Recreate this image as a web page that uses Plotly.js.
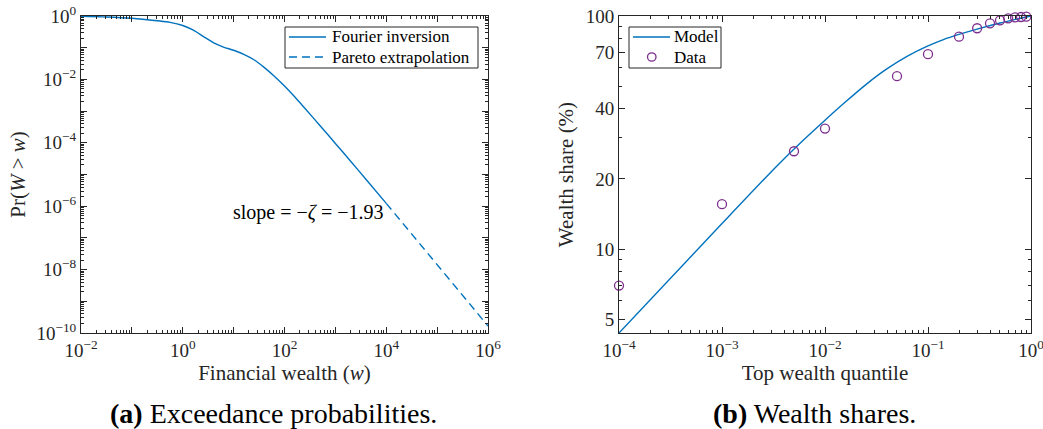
<!DOCTYPE html>
<html>
<head>
<meta charset="utf-8">
<script src="https://cdn.plot.ly/plotly-3.0.1.min.js"></script>
<style>
  html, body { margin: 0; padding: 0; background: #ffffff; }
  #chart { width: 1043px; height: 429px; }
</style>
</head>
<body>
<div id="chart"></div>
<script>
// ---------- Panel (a): exceedance probabilities ----------
const fourierW = [0.01, 0.0316, 0.1, 0.316, 0.562, 1, 1.585, 2.512, 3.98, 6.31, 10, 15.85, 25.1, 39.8, 63.1, 100, 158.5, 251, 501, 1000, 1995, 3981, 10000];
const fourierP = [0.977, 0.933, 0.851, 0.708, 0.631, 0.501, 0.363, 0.229, 0.1445, 0.1047, 0.0832, 0.0617, 0.0417, 0.024, 0.0126, 0.00617, 0.00282, 0.00123, 3.47e-4, 9.55e-5, 2.63e-5, 7.08e-6, 1.23e-6];
const paretoW = [1e4, 1e5, 1e6];
const paretoP = [1.23e-6, 1.445e-8, 1.66e-10];

// ---------- Panel (b): wealth shares ----------
const modelQ = [1e-4, 1e-3, 0.003162, 0.005012, 0.01, 0.01585, 0.02512, 0.03981, 0.0631, 0.1, 0.1413, 0.1995, 0.3, 0.5012, 1];
const modelS = [4.37, 12.88, 21.98, 26.92, 35.73, 42.85, 50.93, 59.29, 67.3, 74.47, 79.25, 83.37, 87.9, 93.33, 100];
const dataQ = [1e-4, 1e-3, 0.005, 0.01, 0.05, 0.1, 0.2, 0.3, 0.4, 0.5, 0.6, 0.7, 0.8, 0.9];
const dataS = [6.98, 15.6, 26.3, 32.9, 55.2, 68.6, 81.5, 88.6, 93.0, 95.8, 97.7, 98.7, 99.0, 99.3];

// tick labels
const xTickLabelsA = ["10<sup>−2</sup>", "", "10<sup>0</sup>", "", "10<sup>2</sup>", "", "10<sup>4</sup>", "", "10<sup>6</sup>"];
const yTickLabelsA = ["10<sup>−10</sup>", "", "10<sup>−8</sup>", "", "10<sup>−6</sup>", "", "10<sup>−4</sup>", "", "10<sup>−2</sup>", "", "10<sup>0</sup>"];
const xTickLabelsB = ["10<sup>−4</sup>", "10<sup>−3</sup>", "10<sup>−2</sup>", "10<sup>−1</sup>", "10<sup>0</sup>"];
const yTickValsB = [5, 10, 20, 40, 70, 100];
const yTickLabelsB = ["5", "10", "20", "40", "70", "100"];

// legend labels
const legendA = ["Fourier inversion", "Pareto extrapolation"];
const legendB = ["Model", "Data"];

function decades(lo, hi) { const v = []; for (let e = lo; e <= hi; e++) v.push(Math.pow(10, e)); return v; }
function minors(lo, hi) { const v = []; for (let e = lo; e < hi; e++) for (let k = 2; k <= 9; k++) v.push(k * Math.pow(10, e)); return v; }

const W = 1043, H = 429;
const px = v => v / W;
const py = v => 1 - v / H;

const blue = '#0072BD';
const purple = '#7E2F8E';
const axCol = '#262626';
const FONT = 'Liberation Serif';

const traces = [
  { x: fourierW, y: fourierP, type: 'scatter', mode: 'lines', name: legendA[0],
    line: { color: blue, width: 1.4, shape: 'spline', smoothing: 0.8 }, xaxis: 'x', yaxis: 'y' },
  { x: paretoW, y: paretoP, type: 'scatter', mode: 'lines', name: legendA[1],
    line: { color: blue, width: 1.4, dash: '8px,5px' }, xaxis: 'x', yaxis: 'y' },
  { x: modelQ, y: modelS, type: 'scatter', mode: 'lines', name: legendB[0],
    line: { color: blue, width: 1.4, shape: 'spline', smoothing: 0.8 }, xaxis: 'x2', yaxis: 'y2' },
  { x: dataQ, y: dataS, type: 'scatter', mode: 'markers', name: legendB[1],
    marker: { symbol: 'circle-open', size: 9, color: purple, line: { width: 1.3, color: purple } },
    xaxis: 'x2', yaxis: 'y2', cliponaxis: false }
];

function axisBase() {
  return {
    type: 'log', showgrid: false, zeroline: false,
    showline: true, linecolor: axCol, linewidth: 1, mirror: 'allticks',
    ticks: 'inside', ticklen: 6, tickwidth: 1, tickcolor: axCol,
    tickfont: { family: FONT, size: 19, color: axCol },
    ticklabeloverflow: 'allow',
    tickmode: 'array', fixedrange: true
  };
}
function minorAx(vals) { return { tickvals: vals, ticks: 'inside', ticklen: 3, tickcolor: axCol, tickwidth: 1 }; }
const titleFont = { family: FONT, size: 21, color: axCol };

const yDomain = [1 - 333 / H, 1 - 16 / H];

// custom legend boxes (MATLAB-style compact legends)
const legFont = { family: FONT, size: 17, color: '#000000' };
const shapes = [
  { type: 'rect', xref: 'paper', yref: 'paper', x0: px(285), x1: px(478), y0: py(68), y1: py(27),
    line: { color: axCol, width: 1 }, fillcolor: '#ffffff', layer: 'above' },
  { type: 'line', xref: 'paper', yref: 'paper', x0: px(289), x1: px(326), y0: py(37), y1: py(37),
    line: { color: blue, width: 1.4 }, layer: 'above' },
  { type: 'line', xref: 'paper', yref: 'paper', x0: px(289), x1: px(326), y0: py(57), y1: py(57),
    line: { color: blue, width: 1.4, dash: '8px,5px' }, layer: 'above' },
  { type: 'rect', xref: 'paper', yref: 'paper', x0: px(629), x1: px(721), y0: py(68), y1: py(27),
    line: { color: axCol, width: 1 }, fillcolor: '#ffffff', layer: 'above' },
  { type: 'line', xref: 'paper', yref: 'paper', x0: px(633), x1: px(670), y0: py(37), y1: py(37),
    line: { color: blue, width: 1.4 }, layer: 'above' },
  { type: 'circle', xref: 'paper', yref: 'paper', x0: px(647.5), x1: px(656), y0: py(61.2), y1: py(52.8),
    line: { color: purple, width: 1.3 }, fillcolor: 'rgba(0,0,0,0)', layer: 'above' }
];

const layout = {
  width: W, height: H,
  margin: { l: 0, r: 0, t: 0, b: 0 },
  paper_bgcolor: '#ffffff', plot_bgcolor: '#ffffff',
  font: { family: FONT, color: axCol },
  showlegend: false,
  xaxis: Object.assign(axisBase(), {
    domain: [81 / W, 488 / W], range: [-2, 6], anchor: 'y',
    tickvals: decades(-2, 6), ticktext: xTickLabelsA, minor: minorAx(minors(-2, 6)),
    title: { text: 'Financial wealth (<i>w</i>)', font: titleFont, standoff: 4 }
  }),
  yaxis: Object.assign(axisBase(), {
    domain: yDomain, range: [-10, 0], anchor: 'x',
    tickvals: decades(-10, 0), ticktext: yTickLabelsA, minor: minorAx(minors(-10, 0)),
    title: { text: 'Pr(<i>W</i> > <i>w</i>)', font: titleFont, standoff: 5 }
  }),
  xaxis2: Object.assign(axisBase(), {
    domain: [619 / W, 1031 / W], range: [-4, 0], anchor: 'y2',
    tickvals: decades(-4, 0), ticktext: xTickLabelsB, minor: minorAx(minors(-4, 0)),
    title: { text: 'Top wealth quantile', font: titleFont, standoff: 4 }
  }),
  yaxis2: Object.assign(axisBase(), {
    domain: yDomain, range: [Math.log10(4.37), 2], anchor: 'x2',
    tickvals: yTickValsB, ticktext: yTickLabelsB, minor: minorAx([6, 7, 8, 9, 30, 50, 60, 80, 90]),
    title: { text: 'Wealth share (%)', font: titleFont, standoff: 6 }
  }),
  shapes: shapes,
  annotations: [
    { xref: 'paper', yref: 'paper', x: px(330), y: py(37), xanchor: 'left', yanchor: 'middle', showarrow: false,
      text: legendA[0], font: legFont },
    { xref: 'paper', yref: 'paper', x: px(330), y: py(57), xanchor: 'left', yanchor: 'middle', showarrow: false,
      text: legendA[1], font: legFont },
    { xref: 'paper', yref: 'paper', x: px(672), y: py(37), xanchor: 'left', yanchor: 'middle', showarrow: false,
      text: legendB[0], font: legFont },
    { xref: 'paper', yref: 'paper', x: px(672), y: py(57), xanchor: 'left', yanchor: 'middle', showarrow: false,
      text: legendB[1], font: legFont },
    { xref: 'x', yref: 'y', x: 3.98, y: -6.2, xanchor: 'right', yanchor: 'middle', showarrow: false,
      text: 'slope = −<i>ζ</i> = −1.93', font: { family: FONT, size: 20, color: '#000000' } },
    { xref: 'paper', yref: 'paper', x: px(273), y: py(413), xanchor: 'center', yanchor: 'middle', showarrow: false,
      text: '<b>(a)</b> Exceedance probabilities.', font: { family: FONT, size: 28, color: '#000000' } },
    { xref: 'paper', yref: 'paper', x: px(814), y: py(413), xanchor: 'center', yanchor: 'middle', showarrow: false,
      text: '<b>(b)</b> Wealth shares.', font: { family: FONT, size: 28, color: '#000000' } }
  ]
};

Plotly.newPlot('chart', traces, layout, { displayModeBar: false, staticPlot: true });
</script>
</body>
</html>
